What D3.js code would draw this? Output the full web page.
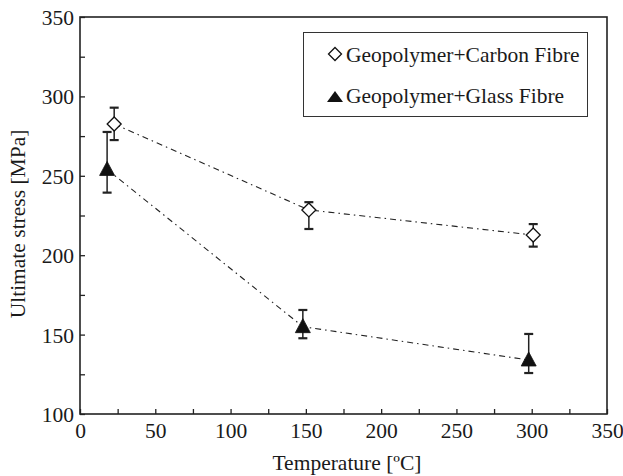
<!DOCTYPE html>
<html>
<head>
<meta charset="utf-8">
<script src="https://cdn.jsdelivr.net/npm/d3@7"></script>
<style>
  body { margin: 0; background: #fff; }
  svg text { font-family: "Liberation Serif", "Times New Roman", serif; font-size: 21.5px; fill: #1a1a1a; }
</style>
</head>
<body>
<svg id="chart"></svg>
<script>
var width = 623;
var height = 476;

// data
var seriesNames = ['Geopolymer+Carbon Fibre', 'Geopolymer+Glass Fibre'];
var carbonTemp = [22.7, 152, 301];
var carbonStress = [282.6, 228.5, 212.7];
var carbonHi = [292.9, 233.4, 219.6];
var carbonLo = [272.5, 216.5, 205.4];
var glassTemp = [18, 148, 298];
var glassStress = [254, 155, 134];
var glassHi = [277.6, 165.5, 150.4];
var glassLo = [239.4, 147.7, 125.8];
var xTicks = [0, 50, 100, 150, 200, 250, 300, 350];
var yTicks = [100, 150, 200, 250, 300, 350];

var margin = { left: 80, right: 16, top: 17, bottom: 62 };

var svg = d3.select('#chart')
  .attr('width', width)
  .attr('height', height);

var x = d3.scaleLinear().domain([0, 350]).range([margin.left, width - margin.right]);
var y = d3.scaleLinear().domain([100, 350]).range([height - margin.bottom, margin.top]);

var series = [
  { name: seriesNames[0], t: carbonTemp, v: carbonStress, hi: carbonHi, lo: carbonLo, shape: 'diamond' },
  { name: seriesNames[1], t: glassTemp, v: glassStress, hi: glassHi, lo: glassLo, shape: 'triangle' }
];

// frame
svg.append('rect')
  .attr('x', x(0)).attr('y', y(350))
  .attr('width', x(350) - x(0)).attr('height', y(100) - y(350))
  .attr('fill', 'none').attr('stroke', '#222').attr('stroke-width', 1.6);

// axes with inward ticks every 25
var xAxis = svg.append('g')
  .attr('transform', 'translate(0,' + y(100) + ')')
  .call(d3.axisBottom(x).tickValues(d3.range(0, 351, 25)).tickSizeInner(-5).tickSizeOuter(0)
    .tickFormat(function(d) { return xTicks.indexOf(d) >= 0 ? d : ''; }));
xAxis.select('.domain').remove();
xAxis.selectAll('line').attr('stroke', '#222').attr('stroke-width', 1.3);
xAxis.selectAll('text').attr('dy', null).attr('y', 24);

var yAxis = svg.append('g')
  .attr('transform', 'translate(' + x(0) + ',0)')
  .call(d3.axisLeft(y).tickValues(d3.range(100, 351, 25)).tickSizeInner(-5).tickSizeOuter(0)
    .tickFormat(function(d) { return yTicks.indexOf(d) >= 0 ? d : ''; }));
yAxis.select('.domain').remove();
yAxis.selectAll('line').attr('stroke', '#222').attr('stroke-width', 1.3);
yAxis.selectAll('text').attr('x', -6).attr('dy', '0.35em');

svg.append('text')
  .attr('x', 347).attr('y', 470)
  .attr('text-anchor', 'middle')
  .text('Temperature [ºC]');

svg.append('text')
  .attr('transform', 'translate(25,224) rotate(-90)')
  .attr('text-anchor', 'middle')
  .text('Ultimate stress [MPa]');

var line = d3.line().x(function(d) { return x(d[0]); }).y(function(d) { return y(d[1]); });

function marker(g, shape, cx, cy) {
  if (shape === 'diamond') {
    g.append('path')
      .attr('d', 'M' + cx + ',' + (cy - 7) + 'L' + (cx + 7) + ',' + cy + 'L' + cx + ',' + (cy + 7) + 'L' + (cx - 7) + ',' + cy + 'Z')
      .attr('fill', '#fff').attr('stroke', '#111').attr('stroke-width', 1.3);
  } else {
    g.append('path')
      .attr('d', 'M' + cx + ',' + (cy - 8) + 'L' + (cx + 7.5) + ',' + (cy + 6) + 'L' + (cx - 7.5) + ',' + (cy + 6) + 'Z')
      .attr('fill', '#111').attr('stroke', '#111').attr('stroke-width', 0.8);
  }
}

series.forEach(function(s) {
  var pts = s.t.map(function(t, i) { return [t, s.v[i]]; });
  svg.append('path')
    .attr('d', line(pts))
    .attr('fill', 'none').attr('stroke', '#222').attr('stroke-width', 1.1)
    .attr('stroke-dasharray', '6,4,1.5,4');

  var g = svg.append('g');
  pts.forEach(function(p, i) {
    var cx = x(p[0]);
    g.append('line').attr('x1', cx).attr('x2', cx).attr('y1', y(s.hi[i])).attr('y2', y(s.lo[i]))
      .attr('stroke', '#222').attr('stroke-width', 1.5);
    [s.hi[i], s.lo[i]].forEach(function(v) {
      g.append('line').attr('x1', cx - 4.5).attr('x2', cx + 4.5).attr('y1', y(v)).attr('y2', y(v))
        .attr('stroke', '#222').attr('stroke-width', 2.2);
    });
    marker(g, s.shape, cx, y(p[1]));
  });
});

// legend
var lg = svg.append('g');
lg.append('rect')
  .attr('x', 303.5).attr('y', 32.5).attr('width', 284).attr('height', 84)
  .attr('fill', '#fff').attr('stroke', '#333').attr('stroke-width', 1);
series.forEach(function(s, i) {
  var base = 62 + i * 41;
  if (s.shape === 'diamond') {
    var cy = base - 8;
    lg.append('path')
      .attr('d', 'M335,' + (cy - 6.5) + 'L341.5,' + cy + 'L335,' + (cy + 6.5) + 'L328.5,' + cy + 'Z')
      .attr('fill', '#fff').attr('stroke', '#111').attr('stroke-width', 1.3);
  } else {
    lg.append('path')
      .attr('d', 'M335,' + (base - 12) + 'L343,' + (base - 1) + 'L327,' + (base - 1) + 'Z')
      .attr('fill', '#111');
  }
  lg.append('text')
    .attr('x', 346).attr('y', base)
    .text(s.name);
});
</script>
</body>
</html>
